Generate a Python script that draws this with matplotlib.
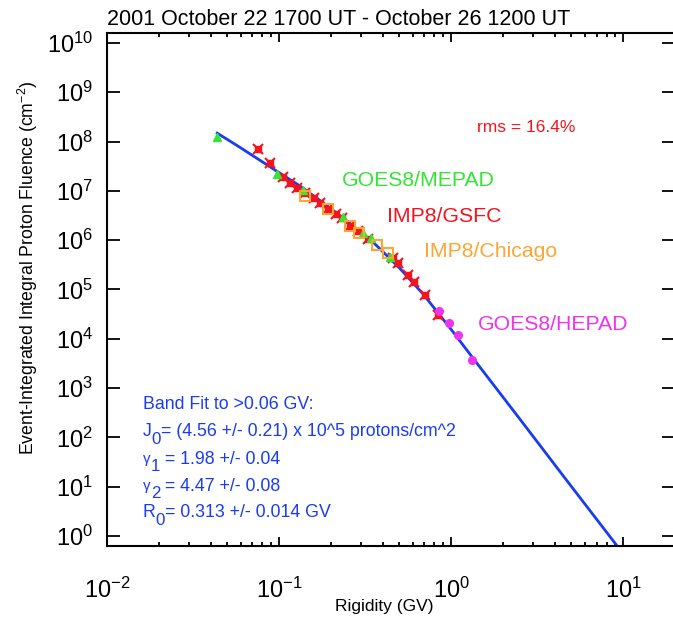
import matplotlib.pyplot as plt
from matplotlib.ticker import LogLocator, NullFormatter

plt.rcParams['font.family'] = ['Liberation Sans', 'DejaVu Sans']
plt.rcParams['mathtext.default'] = 'regular'

# Band fit curve
fit_x = [0.0437, 0.0593, 0.0923, 0.132, 0.180, 0.250, 0.352, 0.50, 0.687, 1.00, 1.325, 2.50, 4.60, 9.23]
fit_y = [1.48e8, 7.6e7, 2.8e7, 1.26e7, 5.75e6, 2.4e6, 9.1e5, 2.75e5, 8.1e4, 1.55e4, 4.27e3, 240, 14.8, 0.63]

# IMP8/GSFC
gsfc_x = [0.0755, 0.0887, 0.1054, 0.1158, 0.127, 0.1416, 0.1596, 0.173, 0.193, 0.2143,
          0.232, 0.2588, 0.288, 0.329, 0.460, 0.492, 0.562, 0.610, 0.706, 0.840]
gsfc_y = [7.0e7, 3.66e7, 1.90e7, 1.44e7, 1.14e7, 9.0e6, 7.1e6, 5.65e6, 4.27e6, 3.38e6,
          2.80e6, 1.93e6, 1.53e6, 1.05e6, 4.33e5, 3.43e5, 1.95e5, 1.41e5, 7.7e4, 3.02e4]

# GOES8/MEPAD
mepad_x = [0.0437, 0.0973, 0.138, 0.2357, 0.308, 0.343, 0.4416]
mepad_y = [1.23e8, 2.19e7, 1.04e7, 2.94e6, 1.39e6, 1.10e6, 4.53e5]

# IMP8/Chicago
chi_x = [0.1416, 0.193, 0.2588, 0.2917, 0.3715, 0.4305]
chi_y = [7.83e6, 4.27e6, 1.93e6, 1.39e6, 7.94e5, 5.47e5]

# GOES8/HEPAD
hepad_x = [0.851, 0.973, 1.099, 1.324]
hepad_y = [3.64e4, 2.08e4, 1.19e4, 3.69e3]

xticks = [0.01, 0.1, 1, 10]
xticklabels = [r'$10^{-2}$', r'$10^{-1}$', r'$10^{0}$', r'$10^{1}$']
yticks = [10.0 ** k for k in range(11)]
yticklabels = [r'$10^{%d}$' % k for k in range(11)]

blue = '#1a3cf0'
red = '#f5141e'
green = '#33e633'
orange = '#ffa533'
magenta = '#ee33ee'

fig = plt.figure(figsize=(6.73, 6.17), dpi=100)
ax = fig.add_axes([107 / 673, 71 / 617, 568 / 673, 513 / 617])

ax.plot(fit_x, fit_y, color=blue, lw=2, zorder=2)
ax.plot(gsfc_x, gsfc_y, 's', color=red, ms=4.5, zorder=3)
ax.plot(gsfc_x, gsfc_y, 'x', color=red, ms=6.5, mew=1.5, zorder=3)
ax.plot(mepad_x, mepad_y, '^', color=green, ms=6, mec=green, zorder=4)
ax.plot(chi_x, chi_y, 's', mfc='none', mec=orange, ms=7, mew=1.5, zorder=4)
ax.plot(hepad_x, hepad_y, 'o', color=magenta, ms=5.5, zorder=4)

ax.set_xscale('log')
ax.set_yscale('log')
ax.set_xlim(0.01, 20)
ax.set_ylim(10 ** -0.2, 10 ** 10.2)

ax.set_xticks(xticks, xticklabels)
ax.set_yticks(yticks, yticklabels)
ax.xaxis.set_minor_locator(LogLocator(base=10, subs=range(2, 10)))
ax.xaxis.set_minor_formatter(NullFormatter())
ax.yaxis.set_minor_locator(LogLocator(base=10, subs=[5]))
ax.yaxis.set_minor_formatter(NullFormatter())

ax.tick_params(which='both', direction='in', top=True, right=True, width=1.3)
ax.tick_params(axis='x', which='major', length=6.5, pad=23, labelsize=17)
ax.tick_params(axis='x', which='minor', length=3)
ax.tick_params(axis='y', which='major', length=9.5, pad=10, labelsize=17)
ax.tick_params(axis='y', which='minor', length=5)
for s in ax.spines.values():
    s.set_linewidth(1.5)

fig.text(107 / 673, 1 - 25 / 617, '2001 October 22 1700 UT - October 26 1200 UT',
         fontsize=15.5, ha='left', va='baseline')
fig.text(384 / 673, 1 - 607 / 617, 'Rigidity (GV)', fontsize=12.5, ha='center', va='center')
fig.text(28 / 673, 1 - 268 / 617, r'Event-Integrated Integral Proton Fluence (cm$^{-2}$)',
         fontsize=12.7, rotation=90, ha='center', va='center')


def figtxt(x, y, s, c, size):
    fig.text(x / 673, 1 - y / 617, s, color=c, fontsize=size, ha='left', va='baseline')


def subtxt(x, y, parts, c, size):
    # parts: (text, drop in pixels below the baseline, size factor)
    t = fig.text(x / 673, 1 - y / 617, parts[0][0], color=c, fontsize=size * parts[0][2],
                 ha='left', va='baseline')
    prev = parts[0][1]
    for s, drop, f in parts[1:]:
        t = ax.annotate(s, xy=(1, 0), xycoords=t, xytext=(0, prev - drop),
                        textcoords='offset pixels', color=c, fontsize=size * f,
                        ha='left', va='bottom', annotation_clip=False)
        prev = drop


figtxt(477, 132, 'rms = 16.4%', red, 12.5)
figtxt(342, 186, 'GOES8/MEPAD', green, 15.3)
figtxt(387, 222, 'IMP8/GSFC', red, 15.3)
figtxt(424, 257, 'IMP8/Chicago', orange, 15.3)
figtxt(478, 330, 'GOES8/HEPAD', magenta, 15.3)

fs = 12.8
figtxt(143, 409, 'Band Fit to >0.06 GV:', blue, fs)
subtxt(143, 436, [('J', 0, 1), ('0', 7, 0.95), ('= (4.56 +/- 0.21) x 10^5 protons/cm^2', 0, 1)], blue, fs)
subtxt(143, 463, [('γ', -2, 0.85), ('1', 6, 0.95), (' = 1.98 +/- 0.04', 0, 1)], blue, fs)
subtxt(143, 490, [('γ', -2, 0.85), ('2', 6, 0.95), (' = 4.47 +/- 0.08', 0, 1)], blue, fs)
subtxt(143, 517, [('R', 0, 1), ('0', 7, 0.95), ('= 0.313 +/- 0.014 GV', 0, 1)], blue, fs)

fig.savefig('out.png', dpi=100)
